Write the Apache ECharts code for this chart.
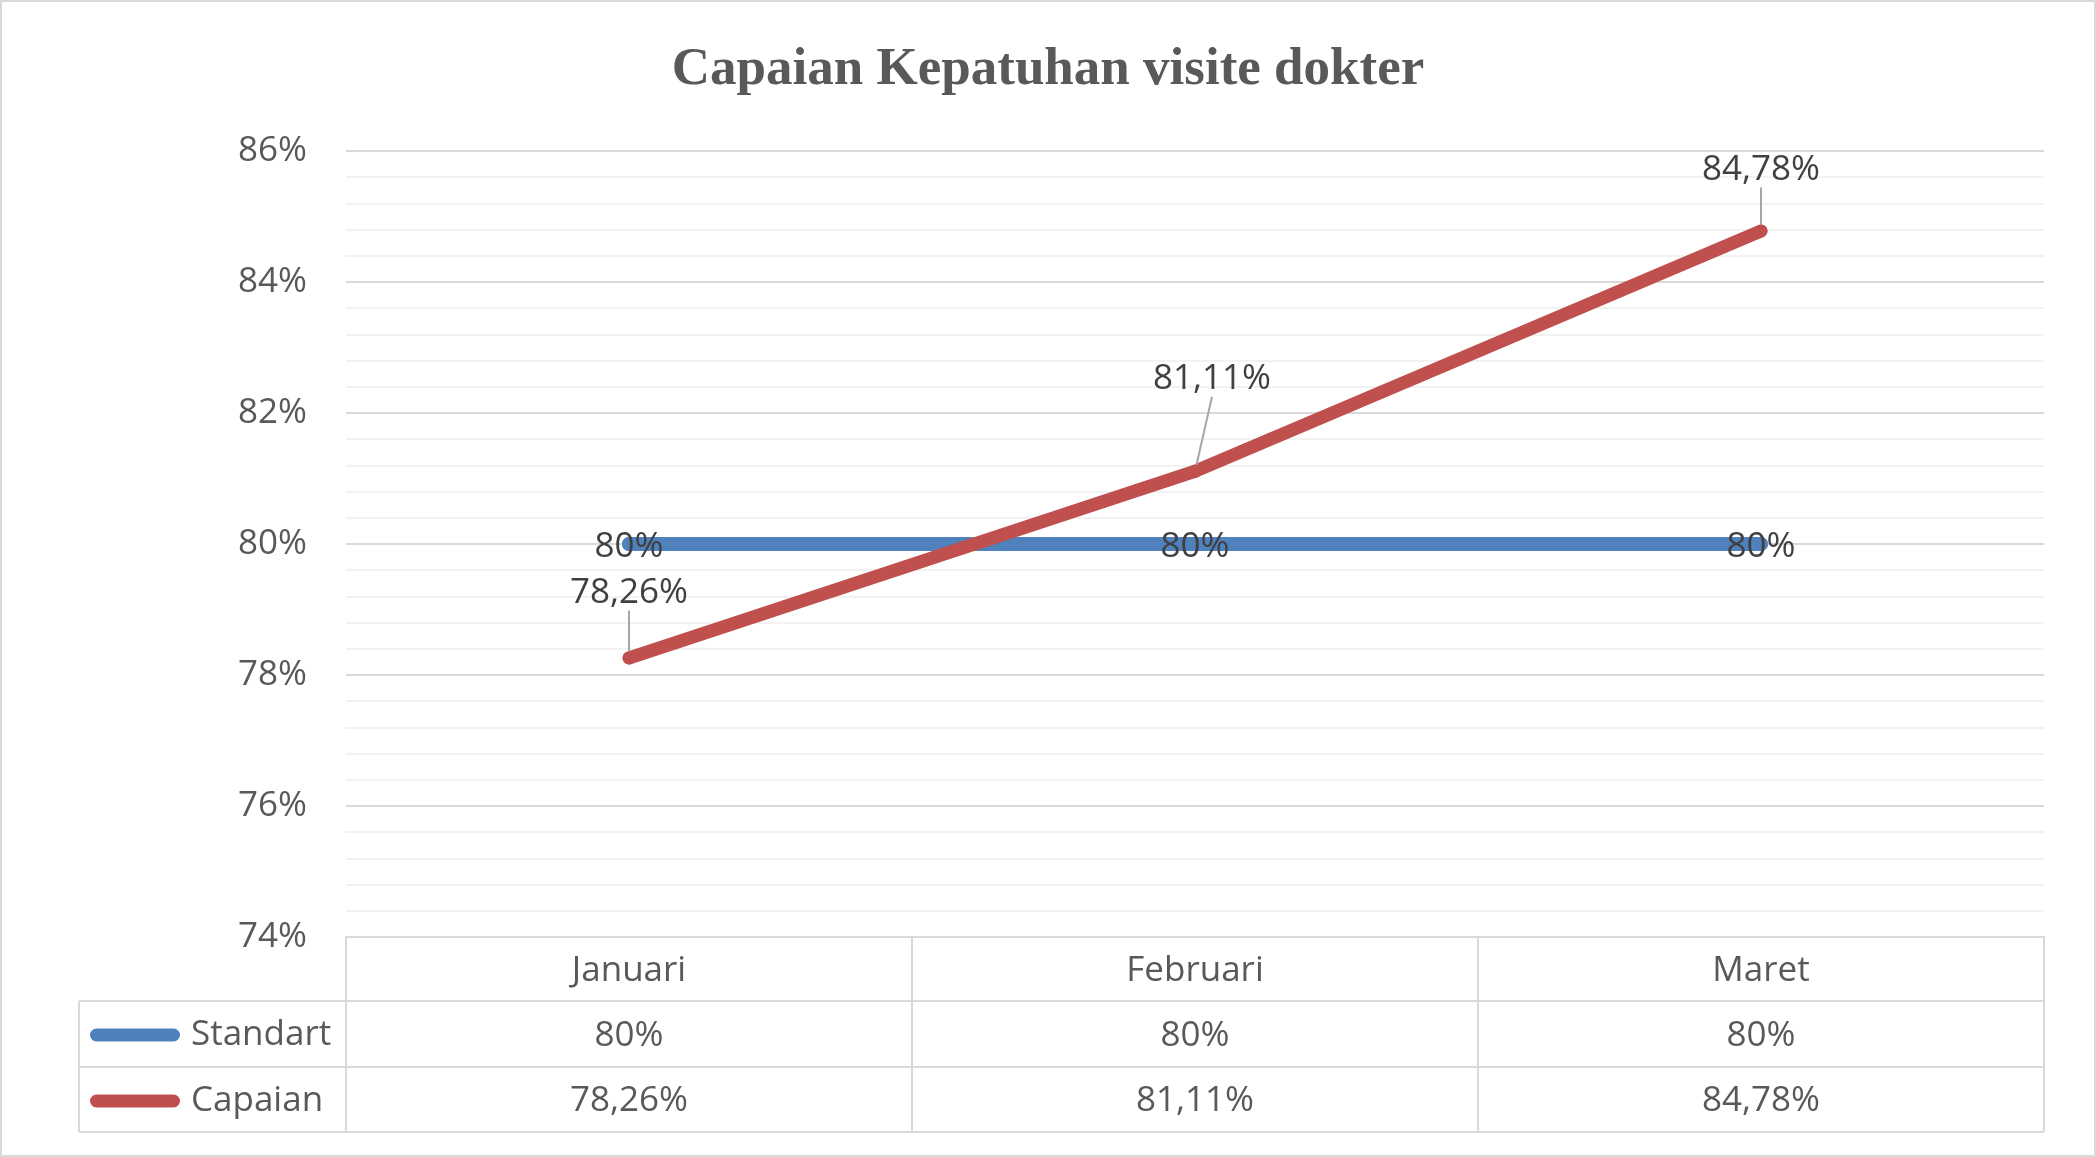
<!DOCTYPE html>
<html>
<head>
<meta charset="utf-8">
<script src="https://cdn.jsdelivr.net/npm/echarts@6/dist/echarts.min.js"></script>
<style>
  html, body { margin: 0; padding: 0; background: #fff; }
  #chart { width: 2096px; height: 1157px; }
</style>
</head>
<body>
<div id="chart"></div>
<script>
const months = ['Januari', 'Februari', 'Maret'];
const standart = [80, 80, 80];
const capaian = [78.26, 81.11, 84.78];
const yTicks = { min: 74, max: 86, step: 2 };

// label nudges for Capaian (Excel moved them by hand)
const capaianNudge = [[0, -36], [17, -63], [0, -32]];

const fmt = v => String(v).replace('.', ',') + '%';
const txt = '#595959';
const grid = { left: 346, right: 52, top: 151, bottom: 220 };
const border = '#D9D9D9';

const capsule = 'path://M6.5,0 H83.5 A6.5,6.5 0 0 1 83.5,13 H6.5 A6.5,6.5 0 0 1 6.5,0 Z';

const chart = echarts.init(document.getElementById('chart'));

const hLine = (x1, x2, y) => ({
    type: 'line', silent: true,
    shape: { x1, y1: y, x2, y2: y },
    style: { stroke: border, lineWidth: 2 }
});

const legendText = { fontFamily: 'Open Sans', fontSize: 35, lineHeight: 44, color: txt, padding: [0, 0, 0, 6] };

chart.setOption({
    animation: false,
    title: {
        text: 'Capaian Kepatuhan visite dokter',
        left: 'center',
        top: 39,
        textStyle: { fontFamily: 'Liberation Serif', fontWeight: 'bold', fontSize: 53, color: txt }
    },
    grid: grid,
    legend: [
        {
            data: ['Standart'], left: 90, top: 1013, padding: 0, orient: 'vertical', selectedMode: false,
            icon: capsule, itemWidth: 90, itemHeight: 13, textStyle: legendText
        },
        {
            data: ['Capaian'], left: 90, top: 1079, padding: 0, orient: 'vertical', selectedMode: false,
            icon: capsule, itemWidth: 90, itemHeight: 13, textStyle: legendText
        }
    ],
    xAxis: [
        {
            type: 'category', data: months, boundaryGap: true,
            axisLine: { show: true, lineStyle: { color: border, width: 2 } },
            axisTick: { show: true, length: 195, lineStyle: { color: border, width: 2 } },
            axisLabel: { margin: 34, verticalAlign: 'middle', fontFamily: 'Open Sans', fontSize: 35, color: txt }
        },
        {
            type: 'category', data: months, position: 'bottom', offset: 64,
            axisLine: { show: false }, axisTick: { show: false },
            axisLabel: {
                margin: 35, verticalAlign: 'middle', fontFamily: 'Open Sans', fontSize: 35, color: txt,
                formatter: (v, i) => fmt(standart[i])
            }
        },
        {
            type: 'category', data: months, position: 'bottom', offset: 130,
            axisLine: { show: false }, axisTick: { show: false },
            axisLabel: {
                margin: 34, verticalAlign: 'middle', fontFamily: 'Open Sans', fontSize: 35, color: txt,
                formatter: (v, i) => fmt(capaian[i])
            }
        }
    ],
    yAxis: {
        type: 'value', min: yTicks.min, max: yTicks.max, interval: yTicks.step,
        axisLine: { show: false }, axisTick: { show: false },
        axisLabel: { formatter: '{value}%', margin: 39, padding: [8, 0, 0, 0], fontFamily: 'Open Sans', fontSize: 35, color: txt },
        splitLine: { lineStyle: { color: border, width: 2 } },
        minorTick: { show: false, splitNumber: 5 },
        minorSplitLine: { show: true, lineStyle: { color: '#F2F2F2', width: 2 } }
    },
    series: [
        {
            name: 'Standart', type: 'line', data: standart, xAxisIndex: 0,
            color: '#4F81BD',
            symbol: 'circle', symbolSize: 14,
            lineStyle: { width: 14, cap: 'round', join: 'round' },
            label: {
                show: true, position: 'inside', offset: [0, 3], formatter: p => fmt(p.value),
                fontFamily: 'Open Sans', fontSize: 35, color: '#404040'
            }
        },
        {
            name: 'Capaian', type: 'line', data: capaian, xAxisIndex: 0,
            color: '#C0504D',
            symbol: 'circle', symbolSize: 13,
            lineStyle: { width: 13, cap: 'round', join: 'round' },
            label: {
                show: true, position: 'top', distance: 5, formatter: p => fmt(p.value),
                fontFamily: 'Open Sans', fontSize: 35, color: '#404040'
            },
            labelLine: { show: true, lineStyle: { color: '#A6A6A6', width: 2 } },
            labelLayout: p => ({ dx: capaianNudge[p.dataIndex][0], dy: capaianNudge[p.dataIndex][1] })
        }
    ],
    graphic: [
        {
            type: 'rect', silent: true,
            shape: { x: 1, y: 1, width: 2094, height: 1155 },
            style: { fill: 'none', stroke: border, lineWidth: 2 }
        },
        hLine(79, 2044, 1001),
        hLine(79, 2044, 1067),
        hLine(79, 2044, 1132),
        {
            type: 'line', silent: true,
            shape: { x1: 79, y1: 1001, x2: 79, y2: 1132 },
            style: { stroke: border, lineWidth: 2 }
        }
    ]
});
</script>
</body>
</html>
